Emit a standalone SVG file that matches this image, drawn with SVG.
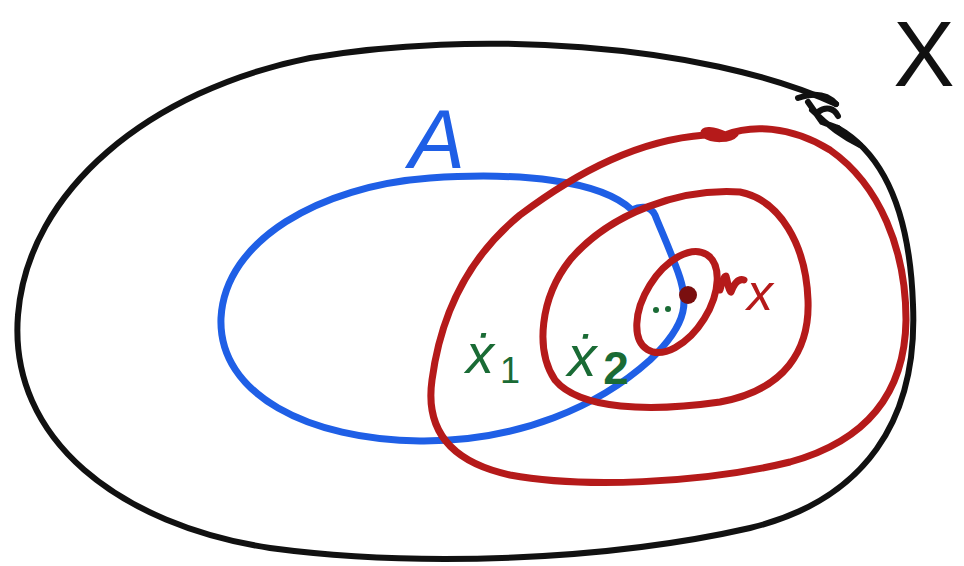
<svg xmlns="http://www.w3.org/2000/svg" width="964" height="566" viewBox="0 0 964 566">
<style>
.ink{fill:none;stroke-linecap:round;stroke-linejoin:round}
.k{stroke:#111;stroke-width:6}
.b{stroke:#1f5fe6;stroke-width:7}
.r{stroke:#b51a1a;stroke-width:7}
.g{fill:#1a6b35}
.lbl{font-family:"Liberation Sans",Arial,sans-serif}
</style>
<rect width="964" height="566" fill="#fff"/>
<g id="set-X">
<path class="ink k" d="M836,104 C700,42 470,30 310,58 C150,90 28,190 18,315 C8,440 120,525 270,548 C420,568 610,560 750,528 C865,500 918,420 913,305 C910,215 885,155 838,128"/>
<path class="ink k" d="M798,98 C815,92 828,95 836,104 M808,102 L822,122 L838,128 M818,112 C826,106 834,108 838,116 M812,110 C830,128 845,138 860,145"/>
<text class="lbl" x="924" y="86" font-size="92" text-anchor="middle" fill="#111">X</text>
</g>
<g id="set-A">
<path class="ink b" d="M632,210 C600,180 520,172 430,178 C320,186 225,240 221,318 C218,395 310,440 420,441 C520,442 600,405 650,360 C690,322 688,300 678,272 C668,245 660,228 655,215 C650,205 640,206 632,210"/>
<text class="lbl" x="437" y="168" font-size="84" text-anchor="middle" fill="#1f5fe6" font-style="italic">A</text>
</g>
<g id="outer-neighbourhood">
<path class="ink r" d="M705,135 C640,140 580,170 520,215 C465,260 440,320 432,380 C425,430 450,462 510,475 C580,488 700,484 790,462 C870,440 905,390 906,320 C906,250 880,185 830,150 C790,125 750,125 725,135 C715,130 700,128 705,135 C712,140 730,140 735,134"/>
</g>
<g id="middle-neighbourhood">
<path class="ink r" d="M740,192 C680,188 610,213 570,260 C540,298 535,350 555,380 C580,410 650,412 720,402 C785,390 810,350 808,300 C806,245 780,200 740,192"/>
</g>
<g id="inner-neighbourhood">
<ellipse class="ink r" cx="677" cy="302" rx="56" ry="32" transform="rotate(-58 677 302)"/>
<circle cx="688" cy="295" r="9" fill="#7a0f0f"/>
</g>
<g id="label-x">
<text class="lbl" x="760" y="310" font-size="52" text-anchor="middle" fill="#b51a1a" font-style="italic">x</text>
</g>
<g id="point-x1">
<text class="lbl g" x="480" y="373" font-size="56" text-anchor="middle" font-style="italic">ẋ</text>
<text class="lbl g" x="510" y="383" font-size="36" text-anchor="middle">1</text>
</g>
<g id="point-x2">
<text class="lbl g" x="582" y="376" font-size="58" text-anchor="middle" font-style="italic">ẋ</text>
<text class="lbl g" x="616" y="384" font-size="46" text-anchor="middle" font-weight="bold">2</text>
</g>
<g id="dots">
<circle cx="656" cy="310" r="3" fill="#1a6b35"/>
<circle cx="668" cy="309" r="3" fill="#1a6b35"/>
</g>
<g id="connectors">
<path class="ink r" d="M720,290 C722,282 724,276 726,276 C728,282 728,290 731,292 C734,284 738,278 744,280"/>
</g>
</svg>
